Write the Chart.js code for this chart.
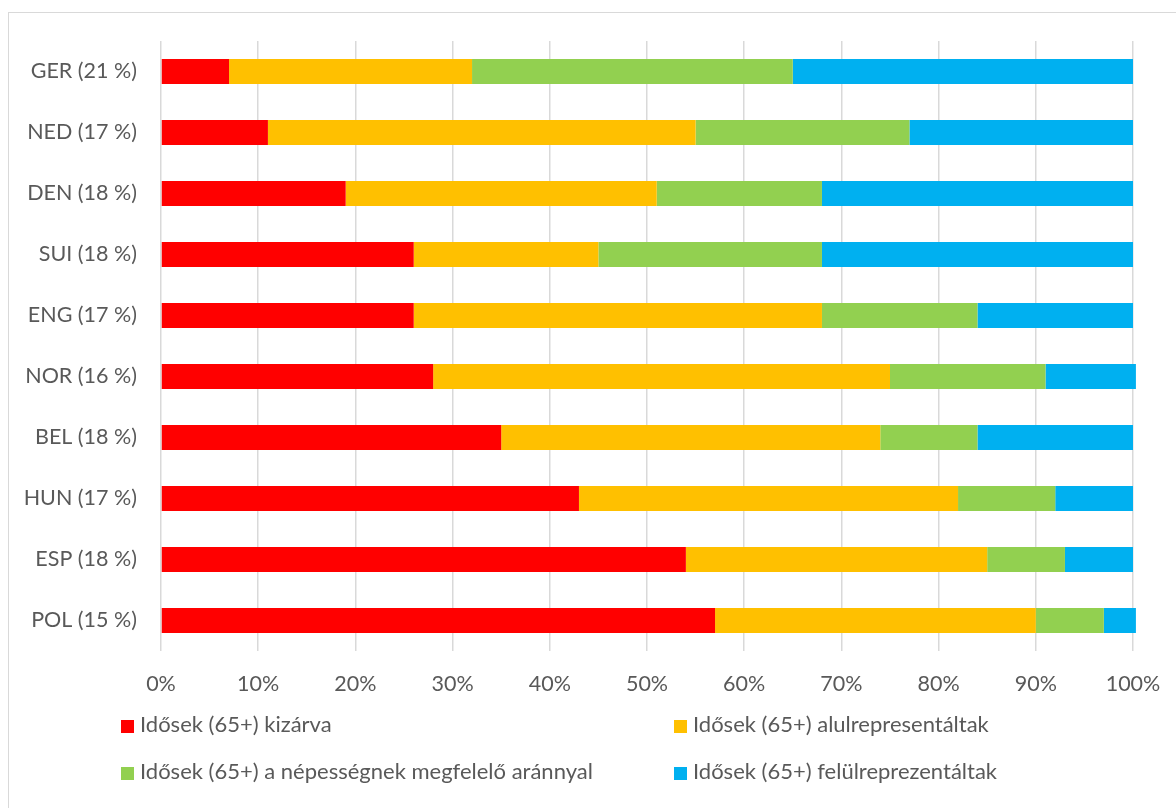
<!DOCTYPE html>
<html>
<head>
<meta charset="utf-8">
<script src="https://cdn.jsdelivr.net/npm/chart.js@4/dist/chart.umd.min.js"></script>
<style>
    html, body { margin: 0; padding: 0; background: #fff; width: 1176px; height: 808px; overflow: hidden; }
    #frame { position: absolute; left: 8px; top: 12px; width: 1200px; height: 820px; border: 1px solid #d9d9d9; box-sizing: border-box; }
    #wrap { position: absolute; left: 0; top: 0; width: 1176px; height: 808px; }
    .leg { position: absolute; font-family: Lato, sans-serif; font-size: 22px; color: #595959; white-space: nowrap; line-height: 26px; }
    .leg span.box { display: inline-block; width: 13px; height: 13px; margin-right: 6px; vertical-align: -1px; }
</style>
</head>
<body>
<div id="frame"></div>
<div id="wrap"><canvas id="Chart" width="1176" height="808"></canvas></div>
<div id="Legend"></div>
<script>
const countries = ['GER (21 %)', 'NED (17 %)', 'DEN (18 %)', 'SUI (18 %)', 'ENG (17 %)', 'NOR (16 %)', 'BEL (18 %)', 'HUN (17 %)', 'ESP (18 %)', 'POL (15 %)'];
const seriesNames = ['Idősek (65+) kizárva', 'Idősek (65+) alulrepresentáltak', 'Idősek (65+) a népességnek megfelelő aránnyal', 'Idősek (65+) felülreprezentáltak'];
const kizarva = [7, 11, 19, 26, 26, 28, 35, 43, 54, 57];
const alul = [25, 44, 32, 19, 42, 47, 39, 39, 31, 33];
const megfelelo = [33, 22, 17, 23, 16, 16, 10, 10, 8, 7];
const felul = [35, 23, 32, 32, 16, 9.3, 16, 8, 7, 3.3];
const colors = ['#ff0000', '#ffc000', '#92d050', '#00b0f0'];
const ctx = document.getElementById('Chart');

const txt = '#595959';
const fnt = { family: 'Lato', size: 21.5 };

const allData = [kizarva, alul, megfelelo, felul];

new Chart(ctx, {
    type: 'bar',
    data: {
        labels: countries,
        datasets: allData.map(function(d, i) {
            return {
                label: seriesNames[i],
                data: d,
                backgroundColor: colors[i],
                borderWidth: 0,
                barPercentage: 0.41,
                categoryPercentage: 1,
                clip: false
            };
        })
    },
    options: {
        indexAxis: 'y',
        responsive: false,
        animation: false,
        layout: { padding: { top: 41, right: 43, left: 0, bottom: 0 } },
        plugins: { legend: { display: false }, tooltip: { enabled: false } },
        scales: {
            x: {
                stacked: true,
                min: 0,
                max: 100,
                ticks: { stepSize: 10, color: txt, font: fnt, padding: 20, callback: function(v) { return v + '%'; } },
                grid: { color: '#d9d9d9', lineWidth: 1.5, drawTicks: false },
                border: { display: false },
                afterFit: function(s) { s.height = 157; s.paddingRight = 0; s.paddingLeft = 0; }
            },
            y: {
                stacked: true,
                ticks: { color: txt, font: fnt, padding: 24 },
                grid: { display: false, drawTicks: false },
                border: { display: false },
                afterFit: function(s) { s.width = 161; }
            }
        }
    }
});

// Legend
const legPos = [[121, 711], [674, 711], [121, 758], [674, 758]];
const leg = document.getElementById('Legend');
seriesNames.forEach(function(name, i) {
    const el = document.createElement('div');
    el.className = 'leg';
    el.style.left = legPos[i][0] + 'px';
    el.style.top = legPos[i][1] + 'px';
    el.innerHTML = '<span class="box" style="background:' + colors[i] + '"></span>' + name;
    leg.appendChild(el);
});
</script>
</body>
</html>
